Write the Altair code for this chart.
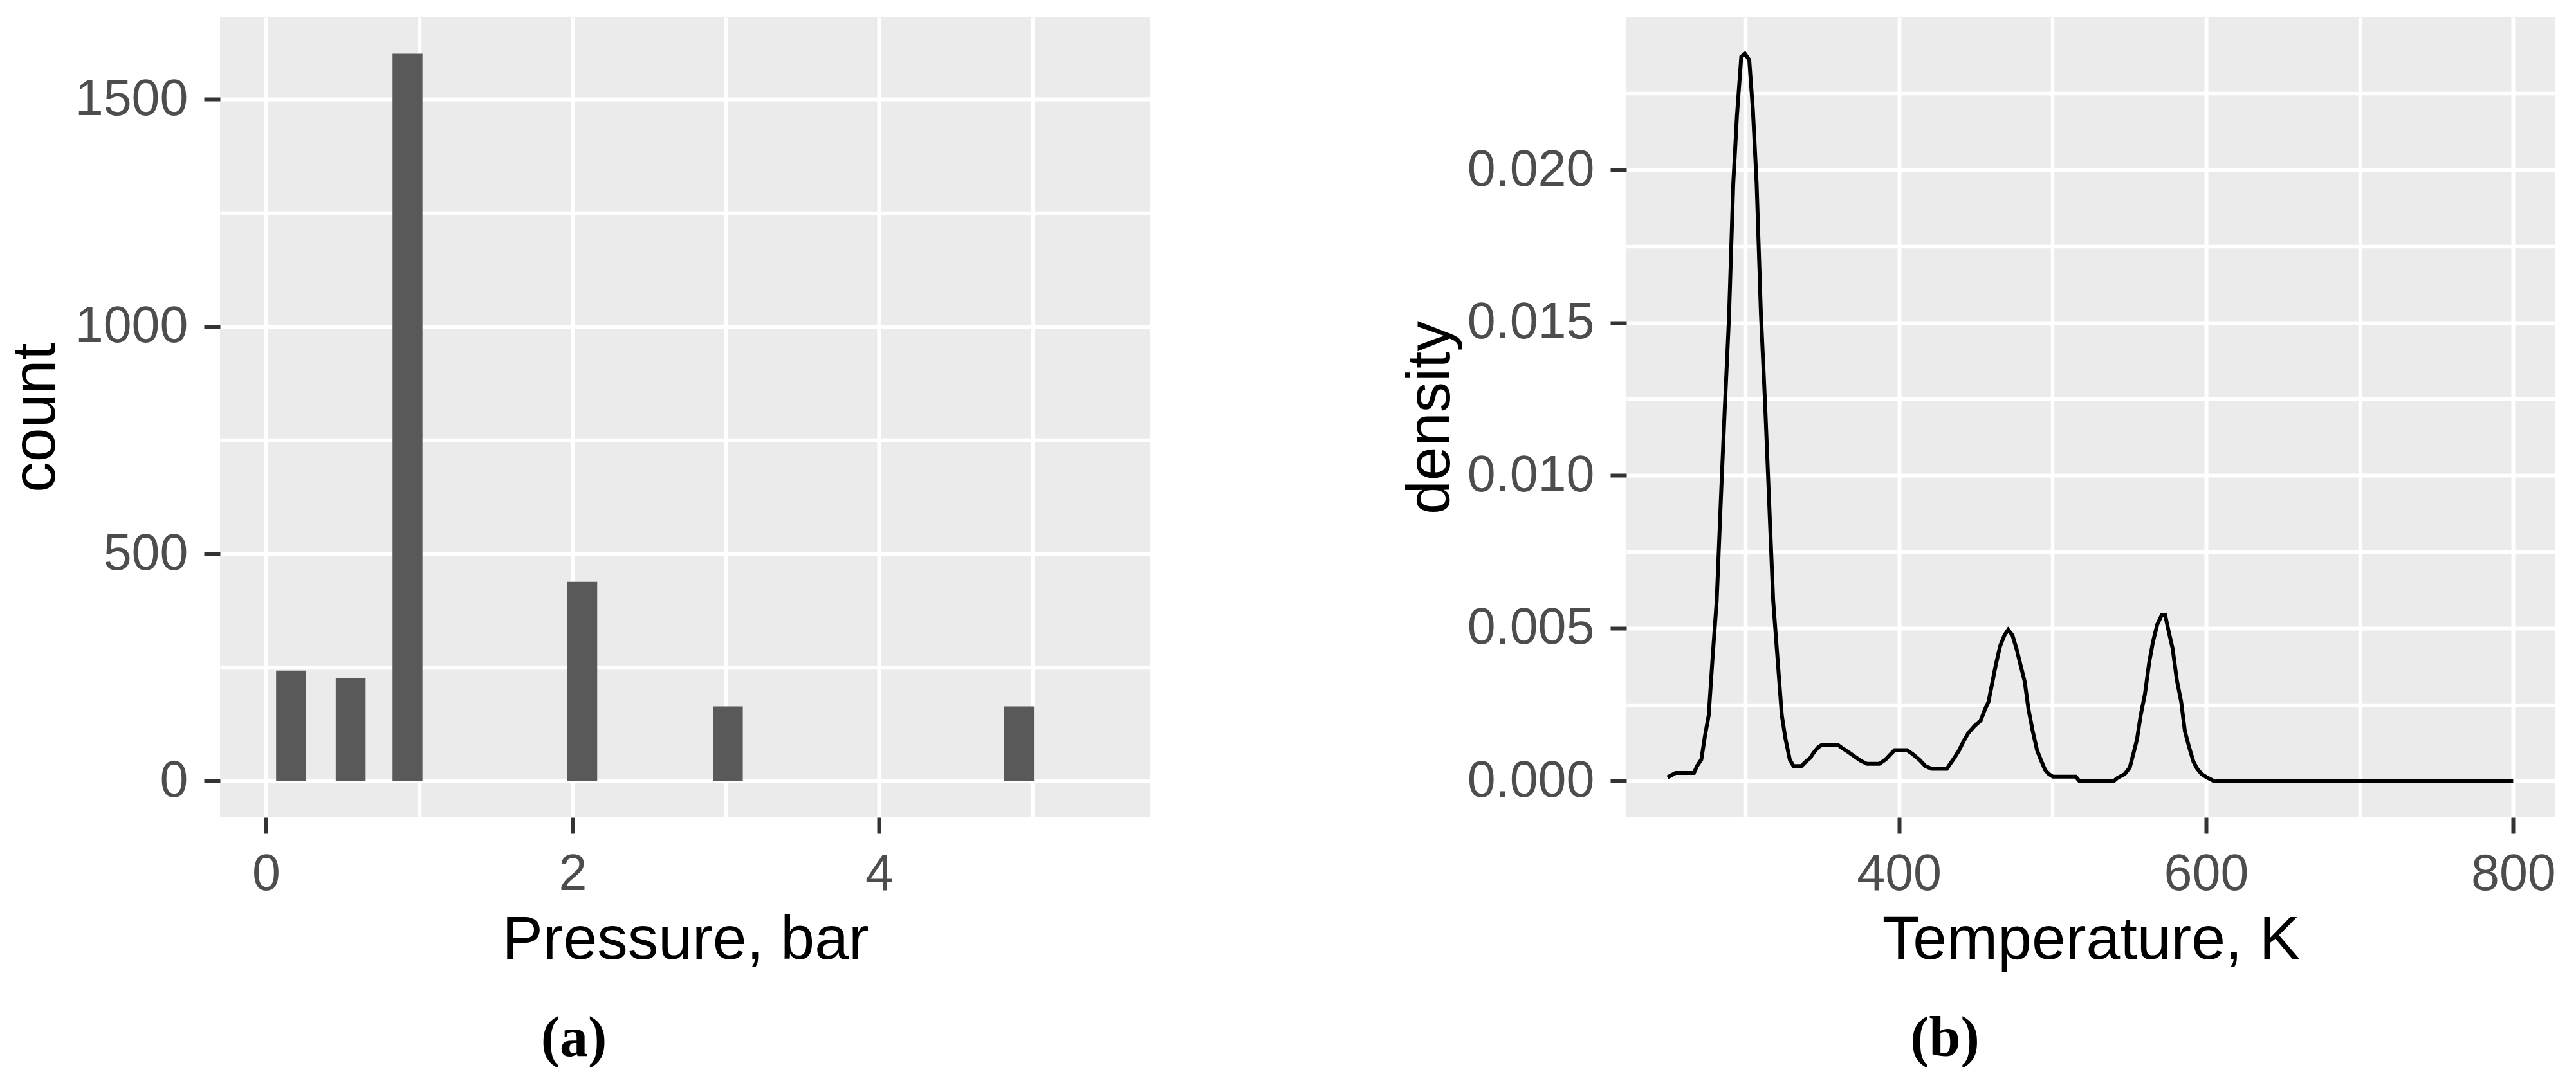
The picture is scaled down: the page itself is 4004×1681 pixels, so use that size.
import altair as alt
import pandas as pd

# ---------------- Panel (a): histogram of pressure ----------------
bin_start = [0.066, 0.455, 0.826, 1.966, 2.916, 4.816]
bin_end = [0.261, 0.650, 1.021, 2.161, 3.111, 5.011]
counts = [243, 226, 1600, 438, 164, 164]

# ---------------- Panel (b): density of temperature ----------------
temp_k = [249.3, 254.5, 266.5, 268.5, 271.3, 273.7, 276.1, 278.6, 281.3, 284.1,
          286.5, 289.3, 292.1, 294.5, 297.3, 299.7, 302.5, 304.9, 307.3, 310.1,
          312.9, 315.3, 318.1, 320.9, 323.7, 326.1, 328.9, 331.3, 336.5, 339.3,
          342.1, 344.5, 347.3, 350.0, 360.0, 363.2, 367.2, 371.2, 375.2, 379.2,
          387.2, 391.2, 394.4, 397.2, 405.2, 409.2, 413.2, 417.2, 421.2, 431.2,
          433.6, 436.0, 439.2, 442.4, 445.2, 449.2, 453.2, 455.9, 458.3, 460.7,
          463.1, 465.9, 468.7, 471.1, 473.9, 476.7, 479.1, 481.9, 484.3, 487.1,
          489.9, 492.3, 495.1, 497.5, 500.3, 515.1, 517.5, 539.9, 542.3, 547.1,
          550.3, 553.0, 555.0, 557.4, 560.2, 563.0, 565.4, 568.2, 571.0, 573.4,
          575.8, 578.2, 581.0, 583.8, 586.2, 589.0, 591.8, 594.2, 597.0, 599.8,
          605.0, 700.0, 800.0]
density = [0.00012, 0.00026, 0.00026, 0.00049, 0.00070, 0.00149, 0.00215, 0.00402, 0.00589, 0.00932,
           0.01212, 0.01516, 0.01955, 0.02178, 0.02370, 0.02380, 0.02360, 0.02194, 0.01955, 0.01528,
           0.01224, 0.00932, 0.00589, 0.00402, 0.00215, 0.00138, 0.00070, 0.00049, 0.00049, 0.00063,
           0.00075, 0.00093, 0.00110, 0.00119, 0.00119, 0.00107, 0.00094, 0.00080, 0.00066, 0.00056,
           0.00056, 0.00070, 0.00087, 0.00101, 0.00101, 0.00087, 0.00070, 0.00049, 0.00040, 0.00040,
           0.00058, 0.00075, 0.00101, 0.00133, 0.00157, 0.00180, 0.00198, 0.00233, 0.00259, 0.00320,
           0.00381, 0.00442, 0.00477, 0.00495, 0.00477, 0.00430, 0.00381, 0.00325, 0.00236, 0.00163,
           0.00101, 0.00070, 0.00037, 0.00023, 0.00014, 0.00014, 0.00000, 0.00000, 0.00010, 0.00023,
           0.00044, 0.00096, 0.00136, 0.00215, 0.00285, 0.00390, 0.00455, 0.00512, 0.00542, 0.00542,
           0.00486, 0.00434, 0.00329, 0.00259, 0.00163, 0.00110, 0.00063, 0.00040, 0.00023, 0.00014,
           0.00000, 0.00000, 0.00000]

# Axis tick positions (major = labelled, others = minor grid only)
xa_ticks = [0, 1, 2, 3, 4, 5]
ya_ticks = [0, 250, 500, 750, 1000, 1250, 1500]
xb_ticks = [300, 400, 500, 600, 700, 800]
yb_ticks = [0, 0.0025, 0.005, 0.0075, 0.01, 0.0125, 0.015, 0.0175, 0.02, 0.0225]

df_a = pd.DataFrame({"start": bin_start, "end": bin_end, "count": counts})
df_b = pd.DataFrame({"T": temp_k, "d": density})

LABEL_FONT = "Liberation Sans"


def make_axis(values, major_test, title, fmt, title_pad):
    return alt.Axis(
        values=values,
        title=title,
        format=fmt,
        titlePadding=title_pad,
        labelExpr="(" + major_test + ") ? datum.label : ''",
        tickOpacity={"condition": {"test": "!(" + major_test + ")", "value": 0}, "value": 1},
        gridWidth={"condition": {"test": "!(" + major_test + ")", "value": 5.5}, "value": 6},
    )


ax_xa = make_axis(xa_ticks, "datum.value % 2 == 0", "Pressure, bar", "d", 16)
ax_ya = make_axis(ya_ticks, "datum.value % 500 == 0", "count", "d", 38)
ax_xb = make_axis(xb_ticks, "datum.value % 200 == 0", "Temperature, K", "d", 16)
ax_yb = make_axis(yb_ticks, "round(datum.value * 10000) % 50 == 0", "density", ".3f", 56)

panel_a = alt.Chart(df_a).mark_rect(color="#595959").encode(
    x=alt.X("start:Q", scale=alt.Scale(domain=[-0.30, 5.77], nice=False, zero=False), axis=ax_xa),
    x2="end:Q",
    y=alt.Y("count:Q", scale=alt.Scale(domain=[-80, 1680], nice=False, zero=False), axis=ax_ya),
    y2=alt.datum(0),
).properties(
    width=1446, height=1244,
    title=alt.TitleParams("(a)", orient="bottom", frame="group", dx=-173),
)

panel_b = alt.Chart(df_b).mark_line(color="black", strokeWidth=6).encode(
    x=alt.X("T:Q", scale=alt.Scale(domain=[222.5, 827.5], nice=False, zero=False), axis=ax_xb),
    y=alt.Y("d:Q", scale=alt.Scale(domain=[-0.00119, 0.02499], nice=False, zero=False), axis=ax_yb),
).properties(
    width=1444, height=1244,
    title=alt.TitleParams("(b)", orient="bottom", frame="group", dx=-227),
)

chart = alt.hconcat(panel_a, panel_b, spacing=388).properties(
    padding={"left": 0, "top": 19, "right": 0, "bottom": 0},
    background="white",
).configure_view(
    stroke=None, fill="#EBEBEB",
).configure_axis(
    domain=False,
    grid=True,
    gridColor="white",
    tickColor="#333333",
    tickSize=25,
    tickWidth=6,
    labelPadding=25,
    labelLimit=0,
    labelFont=LABEL_FONT,
    labelFontSize=79,
    labelColor="#4D4D4D",
    titleFont=LABEL_FONT,
    titleFontSize=95,
    titleFontWeight="normal",
    titleColor="black",
).configure_title(
    font="Liberation Serif",
    fontSize=88,
    fontWeight="bold",
    color="black",
    offset=63,
)

chart.save("out.html", embed_options={"renderer": "svg", "actions": False})
